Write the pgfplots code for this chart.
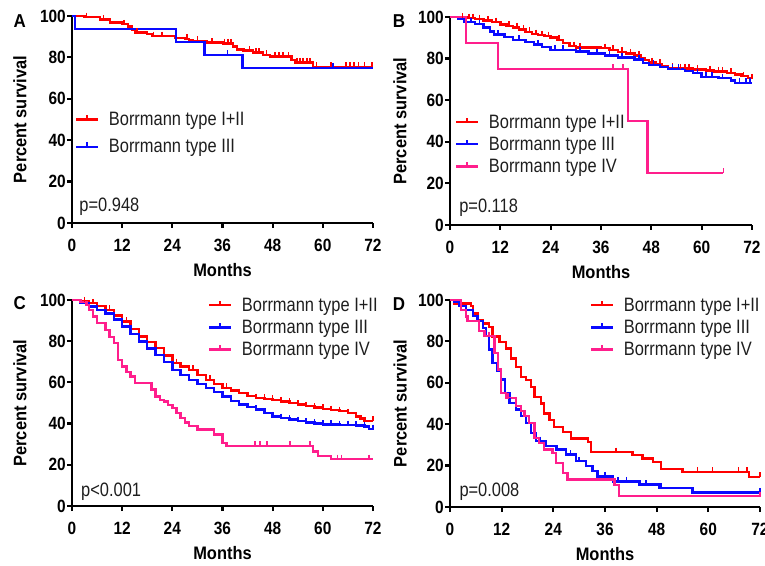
\documentclass[border=0pt]{standalone}
\usepackage{fontspec}
\setmainfont{Liberation Sans}
\usepackage{graphicx}
\usepackage{pgfplots}
\pgfplotsset{compat=1.18}
\definecolor{kmred}{RGB}{255,0,0}
\definecolor{kmblue}{RGB}{10,10,255}
\definecolor{kmpink}{RGB}{255,30,140}
\definecolor{txt}{RGB}{30,30,30}
\newcommand{\lgt}[1]{{\fontsize{16.5}{19}\selectfont\color{txt}\scalebox{1}[1.18]{#1}}}
\newcommand{\pv}[1]{{\fontsize{16.5}{19}\selectfont\color{txt}\scalebox{1}[1.18]{#1}}}
\newcommand{\lab}[1]{\scalebox{1}[1.1]{#1}}
\tikzset{pval/.style={anchor=base west, inner sep=0pt}}
\pgfplotsset{
 km/.style={
  scale only axis, anchor=south west,
  axis lines=left, axis line style={-, line width=2.2bp, black},
  xmin=0, xmax=72, ymin=0, ymax=100,
  xtick={0,12,...,72}, ytick={0,20,...,100},
  tick align=outside, major tick length=5bp,
  tick style={line width=2.2bp, black},
  ticklabel style={font=\bfseries\fontsize{15.5}{18}\selectfont},
  xticklabel={\scalebox{1}[1.15]{\pgfmathprintnumber{\tick}}},
  yticklabel={\scalebox{1}[1.15]{\pgfmathprintnumber{\tick}}},
  yticklabel style={inner xsep=1bp},
  xticklabel style={yshift=-8bp},
  /pgf/number format/assume math mode=true,
  xlabel={\lab{Months}}, ylabel={\lab{Percent survival}},
  label style={font=\bfseries\fontsize{16.5}{19}\selectfont},
  xlabel style={at={(axis description cs:0.5,-0.227)}, anchor=center},
  clip=false,
  legend cell align=left,
  legend style={draw=none, fill=none, inner sep=0pt, outer sep=0pt, column sep=7.5bp, row sep=3.3bp},
  legend image code/.code={\draw[##1,line width=2.4bp] (0bp,0bp) -- (22bp,0bp); \draw[##1,line width=1.6bp] (11bp,0bp) -- (11bp,4.5bp);},
 },
 cr/.style={const plot, line width=2.4bp, color=kmred},
 cb/.style={const plot, line width=2.4bp, color=kmblue},
 cp/.style={const plot, line width=2.4bp, color=kmpink},
 mr/.style={only marks, mark=|, mark size=2.5bp, color=kmred, mark options={line width=1.6bp, yshift=2bp}, forget plot},
 mb/.style={only marks, mark=|, mark size=2.5bp, color=kmblue, mark options={line width=1.6bp, yshift=2bp}, forget plot},
 mp/.style={only marks, mark=|, mark size=2.5bp, color=kmpink, mark options={line width=1.6bp, yshift=2bp}, forget plot},
}
\begin{document}
\begin{tikzpicture}
\path[use as bounding box] (0bp,0bp) rectangle (765bp,566bp);
% ---------------- A
\begin{axis}[km, at={(72bp,343bp)}, width=301bp, height=207bp,
  ylabel style={at={(axis description cs:-0.173,0.5)}, anchor=center},
  legend style={at={(axis description cs:0.01,0.545)}, anchor=north west, row sep=8.5bp}]
\addplot[cr] coordinates {(0,100)(3,99.4)(6.7,98.4)(9.1,96.8)(11.9,96)(13.4,94.9)(14.3,93.2)(15.1,92.1)(17.9,91.3)(19.1,90.3)(24.6,89.5)(27,89.0)(28,88.4)(29,88)(32.2,87.1)(36.2,86.8)(38.5,85.2)(39.4,83.9)(41,83.3)(43.3,82.3)(45.7,81.2)(47.4,80.4)(52.5,78.7)(53.5,77.6)(57.7,75.5)(72,75.5)};
\addlegendentry{\lgt{Borrmann type I+II}}
\addplot[cb] coordinates {(0,100)(0.7,93.75)(24.9,87.5)(31.7,81.25)(40.8,75)(72,75)};
\addlegendentry{\lgt{Borrmann type III}}
\addplot[mr] coordinates {(3.5,99.4)(7.5,98.4)(12.5,96)(15.5,92.1)(19.5,90.3)(21.5,90.3)(27.5,89)(30,88)(33.5,87.1)(36.5,86.8)(37.3,86.8)(38,86.8)(42.5,83.3)(44,82.3)(44.8,82.3)(46.5,81.2)(48.5,80.4)(49.5,80.4)(50.5,80.4)(51.8,80.4)(53.8,77.6)(54.5,77.6)(55.3,77.6)(56.2,77.6)(57,77.6)(58.5,75.5)(62,75.5)(65.5,75.5)(66.5,75.5)(67.5,75.5)(68.5,75.5)(70,75.5)(71.8,75.5)};
\addplot[mb] coordinates {(37.2,81.25)(62.4,75)};
\node[pval] at (axis description cs:0.024,0.0546) {\pv{p=0.948}};
\end{axis}
% ---------------- B
\begin{axis}[km, at={(450bp,341bp)}, width=302bp, height=208bp,
  ylabel style={at={(axis description cs:-0.166,0.5)}, anchor=center},
  legend style={at={(axis description cs:0.0166,0.540)}, anchor=north west}]
\addplot[cr] coordinates {(0,100)(2,99.7)(4,99.4)(6,99)(8,98.3)(10,97.5)(12,96.3)(13.5,95.8)(15,95)(16.5,94)(18,92.8)(19.5,91.8)(21,91.2)(22.5,90.8)(24,90.2)(25.5,89)(27,87.5)(28.5,86)(30,85.4)(36,85)(38,84.2)(40,83.3)(42,82.5)(44,81.5)(45.5,80.4)(46.5,79.2)(47.5,78.2)(49,77.5)(50.5,76.5)(52,75.6)(54,75.3)(58,74.8)(61,74.3)(63,73.8)(66,73.2)(68,72.3)(69.5,71.5)(71,70.8)(72,70.5)};
\addlegendentry{\lgt{Borrmann type I+II}}
\addplot[cb] coordinates {(0,100)(2,99)(3.5,97.5)(6,96.5)(8,95)(9.5,93)(10.5,91.5)(13,90.5)(15,89)(18,88)(20,86.8)(22,85.5)(24,84.2)(30,83.5)(33,82.5)(37,81.5)(40,80.5)(44,79.5)(46,78)(47.5,77)(50,76)(52,75)(56,74)(58,73)(60,71.2)(64,70.6)(67,69.5)(68,68.4)(72,68.4)};
\addlegendentry{\lgt{Borrmann type III}}
\addplot[cp] coordinates {(0,100)(3.8,87.5)(11.4,75)(42.5,50)(47.1,25)(65.2,25)};
\addlegendentry{\lgt{Borrmann type IV}}
\addplot[mr] coordinates {(3,99.7)(4.5,99.4)(5.5,99.4)(7,99)(9,98.3)(11,97.5)(14,95.8)(16,95)(17.5,94)(19,92.8)(20.5,91.8)(22,91.2)(23.5,90.8)(26,89)(29.5,86)(31,85.4)(37,85)(38.8,84.2)(41,83.3)(43,82.5)(45,81.5)(48.2,78.2)(50,77.5)(53,75.6)(55,75.3)(56,75.3)(57,75.3)(59,74.8)(62,74.3)(64,73.8)(65,73.8)(67,73.2)(70,71.5)(72,70.5)};
\addplot[mb] coordinates {(5,97.5)(7,96.5)(11.5,91.5)(16.5,89)(21,86.8)(25,84.2)(27,84.2)(31,83.5)(35,82.5)(38,81.5)(41,80.5)(45,79.5)(48.5,77)(53,75)(54.5,75)(59,73)(61,71.2)(62.5,71.2)(65,70.6)(69,68.4)(70.5,68.4)(71.5,68.4)};
\addplot[mp] coordinates {(38.9,75)(41.3,75)(65.2,25)};
\node[pval] at (axis description cs:0.030,0.059) {\pv{p=0.118}};
\end{axis}
% ---------------- C
\begin{axis}[km, at={(72bp,60bp)}, width=301bp, height=206bp,
  ylabel style={at={(axis description cs:-0.173,0.5)}, anchor=center},
  legend style={at={(axis description cs:0.452,1.020)}, anchor=north west}]
\addplot[cr] coordinates {(0,100)(2,99.3)(4,98.4)(6,97)(8,95.2)(10,92.5)(12,89.5)(14,86)(16,82.3)(18,79.5)(20,76.6)(22,73)(24,69.4)(26,67.8)(28,66.1)(30,63.7)(32,61.3)(34,59.2)(36,57.3)(38,56)(40,54.8)(42,53.5)(44,52.4)(46,52)(48,51.6)(50,50.8)(52,50)(54,49.2)(56,48.4)(58,47.8)(60,47.1)(62,46.5)(64,46)(66,45)(68,43.5)(69,42.5)(70,41.3)(72,41.3)};
\addlegendentry{\lgt{Borrmann type I+II}}
\addplot[cb] coordinates {(0,100)(2,98.5)(4,96.8)(6,95.2)(8,93.5)(10,90.5)(12,87.1)(14,83.5)(16,79.8)(18,76.5)(20,73.4)(22,69.8)(24,66.1)(26,63.7)(28,61.3)(30,59.3)(32,57.3)(34,55.2)(36,53.2)(38,51)(40,49.2)(42,48)(44,46.8)(46,45.2)(48,43.5)(50,42.6)(52,41.9)(54,41.2)(56,40.6)(58,40)(60,39.5)(64,39.3)(68,39)(70,38.5)(71,37.5)(72,37.3)};
\addlegendentry{\lgt{Borrmann type III}}
\addplot[cp] coordinates {(0,100)(2,99)(3.5,97.5)(4,95.2)(5,92)(6,88.7)(8,85.5)(9,82)(10,79)(11,71)(12,67.7)(13,65)(14,62.9)(15,59.7)(19,56.5)(20,53.2)(21,51.5)(22,50.8)(23,49)(24,47.6)(25,45)(26,42.7)(27,40.5)(28,38.7)(30,37.1)(34,34.7)(36,30.6)(37,29.2)(57.7,26.5)(58.9,24.2)(62,22.7)(72,22.7)};
\addlegendentry{\lgt{Borrmann type IV}}
\addplot[mr] coordinates {(3,99.3)(5,98.4)(9,95.2)(13,89.5)(25,69.4)(29,66.1)(33,61.3)(37,57.3)(40,54.8)(44,52.4)(46,52)(48,51.6)(50,50.8)(52,50)(54,49.2)(56,48.4)(58,47.8)(60,47.1)(62,46.5)(64,46)(66,45)(72,41.3)};
\addplot[mb] coordinates {(40,49.2)(44,46.8)(48,43.5)(50,42.6)(52,41.9)(54,41.2)(56,40.6)(58,40)(60,39.5)(62,39.5)(64,39.3)(66,39.3)(68,39)(70,38.5)(72,37.3)};
\addplot[mp] coordinates {(43.8,29.2)(45,29.2)(46.6,29.2)(52.2,29.2)(57,29.2)(63.5,22.7)(64.5,22.7)(71,22.7)};
\node[pval] at (axis description cs:0.030,0.047) {\pv{p<0.001}};
\end{axis}
% ---------------- D
\begin{axis}[km, at={(450bp,59bp)}, width=310bp, height=207bp,
  ylabel style={at={(axis description cs:-0.161,0.5)}, anchor=center},
  legend style={at={(axis description cs:0.4516,1.020)}, anchor=north west}]
\addplot[cr] coordinates {(0,100)(1,98.4)(4.9,97.1)(5.3,93.5)(6.4,90.3)(7.6,88.7)(9.1,87.1)(9.9,82.3)(11.5,79.8)(13,76.6)(14.2,71.8)(15.3,67.7)(16.5,62.9)(17.6,61.3)(18.8,58.1)(19.6,53.2)(21.1,50)(21.9,45.2)(23.1,41.9)(24.2,38.7)(26.2,36.3)(28.1,33.1)(32,31.5)(32.7,26.5)(42.4,25)(44.7,23.4)(47.1,21.8)(49,18.5)(54,17)(69.5,14.5)(72,14.5)};
\addlegendentry{\lgt{Borrmann type I+II}}
\addplot[cb] coordinates {(0,100)(1,99)(2.2,97)(3.7,95.2)(5.3,92.3)(6.4,89.8)(7.6,86.6)(8.4,82.6)(9.1,76)(9.9,69.7)(11,65.6)(11.8,61.6)(12.8,55.2)(13.8,50.3)(15.3,47.1)(16.5,43.9)(17.6,40.6)(18.8,35.8)(20,31.8)(22.3,29.4)(24.6,27.7)(26.9,25.3)(29.3,22.1)(31.6,19.7)(33.1,17.3)(34.3,14.8)(37.8,12.4)(44,10.8)(48.6,9.2)(56.3,7.1)(72,7.1)};
\addlegendentry{\lgt{Borrmann type III}}
\addplot[cp] coordinates {(0,100)(2.6,95.2)(3.7,92)(4.1,89.8)(6.8,85)(8,82.6)(10.3,74.5)(11.1,66.5)(11.8,55.2)(13,52.7)(15.3,48.7)(16.5,46.3)(17.3,43.9)(18.4,40.6)(19.6,33.4)(20.7,31)(21.9,27.7)(23.8,26.1)(24.6,21.3)(26.2,16.5)(27.3,13.2)(38.2,10.5)(39.2,5.2)(72,5.2)};
\addlegendentry{\lgt{Borrmann type IV}}
\addplot[mr] coordinates {(38.5,26.5)(57.5,17)(61,17)(67,17)(69,17)(72,14.5)};
\addplot[mb] coordinates {(14,50.3)(21,31.8)(25,27.7)(28,25.3)(30,22.1)(36,14.8)(39,12.4)(41,12.4)(45.5,10.8)(49,9.2)(72,7.1)};
\addplot[mp] coordinates {(9,82.6)(13.5,52.7)(72,5.2)};
\node[pval] at (axis description cs:0.030,0.052) {\pv{p=0.008}};
\end{axis}
% panel letters
\node[font=\bfseries\fontsize{17}{20}\selectfont] at (19.7bp,544.5bp) {\lab{A}};
\node[font=\bfseries\fontsize{17}{20}\selectfont] at (399bp,544.5bp) {\lab{B}};
\node[font=\bfseries\fontsize{17}{20}\selectfont] at (19.7bp,263bp) {\lab{C}};
\node[font=\bfseries\fontsize{17}{20}\selectfont] at (399bp,261.7bp) {\lab{D}};
\end{tikzpicture}
\end{document}
